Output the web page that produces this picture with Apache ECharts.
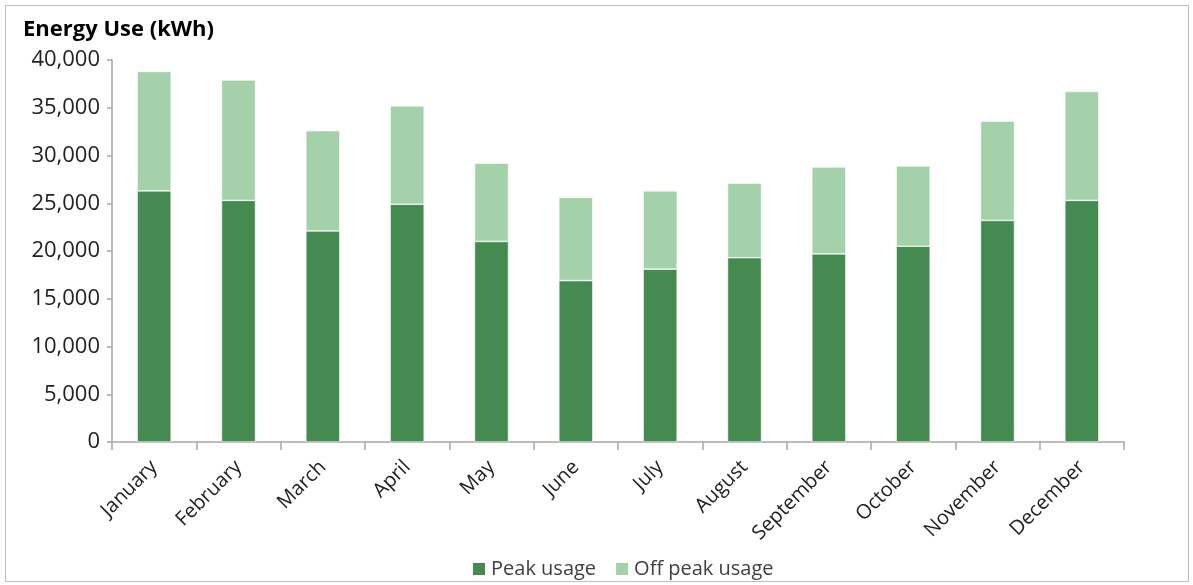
<!DOCTYPE html>
<html>
<head>
<meta charset="utf-8">
<script src="https://cdn.jsdelivr.net/npm/echarts@6/dist/echarts.min.js"></script>
<style>
  html, body { margin: 0; padding: 0; background: #fff; }
  #frame { position: absolute; left: 5px; top: 5px; width: 1184px; height: 577px; border: 1px solid #bfbfbf; box-sizing: border-box; }
  #chart { position: absolute; left: 0; top: 0; width: 1193px; height: 585px; }
</style>
</head>
<body>
<div id="frame"></div>
<div id="chart"></div>
<script>
// Monthly energy use, split into peak and off-peak consumption (kWh)
const months = ['January', 'February', 'March', 'April', 'May', 'June',
                'July', 'August', 'September', 'October', 'November', 'December'];
const peakUsage    = [26300, 25300, 22100, 24900, 21000, 16900, 18100, 19300, 19700, 20500, 23200, 25300];
const offPeakUsage = [12500, 12600, 10500, 10300,  8200,  8700,  8200,  7800,  9100,  8400, 10400, 11400];
const seriesNames = ['Peak usage', 'Off peak usage'];
const yTicks = { min: 0, max: 40000, interval: 5000 };

const FONT = '"Open Sans", "Noto Sans", sans-serif';
const chart = echarts.init(document.getElementById('chart'), null, { renderer: 'canvas' });

chart.setOption({
  backgroundColor: 'transparent',
  animation: false,
  title: {
    text: 'Energy Use (kWh)',
    left: 18, top: 14,
    textStyle: { fontFamily: FONT, fontWeight: 'bold', fontSize: 22, color: '#000' }
  },
  legend: {
    data: seriesNames,
    bottom: 1, left: 466,
    itemWidth: 14, itemHeight: 14, itemGap: 18,
    icon: 'rect',
    textStyle: { fontFamily: FONT, fontSize: 20, color: '#404040' }
  },
  grid: { left: 112, right: 69, top: 60, bottom: 143, containLabel: false },
  xAxis: {
    type: 'category',
    data: months,
    axisLine: { lineStyle: { color: '#a6a6a6', width: 1.5 } },
    axisTick: { show: true, length: 8, alignWithLabel: false, lineStyle: { color: '#a6a6a6', width: 1.5 } },
    axisLabel: { rotate: 45, margin: 22, interval: 0, fontFamily: FONT, fontSize: 20, color: '#222' }
  },
  yAxis: {
    type: 'value',
    min: yTicks.min, max: yTicks.max, interval: yTicks.interval,
    axisLine: { show: true, lineStyle: { color: '#a6a6a6', width: 1.5 } },
    axisTick: { show: true, length: 5, lineStyle: { color: '#a6a6a6', width: 1.5 } },
    splitLine: { show: false },
    axisLabel: {
      margin: 12, fontFamily: FONT, fontSize: 22, color: '#222',
      formatter: v => v.toLocaleString('en-US')
    }
  },
  series: [
    {
      name: seriesNames[0], type: 'bar', stack: 'total', data: peakUsage,
      barWidth: 34,
      itemStyle: { color: '#458a50', borderColor: '#ffffff', borderWidth: 0.6 }
    },
    {
      name: seriesNames[1], type: 'bar', stack: 'total', data: offPeakUsage,
      barWidth: 34,
      itemStyle: { color: '#a4d1aa', borderColor: '#ffffff', borderWidth: 0.6 }
    }
  ]
});
</script>
</body>
</html>
